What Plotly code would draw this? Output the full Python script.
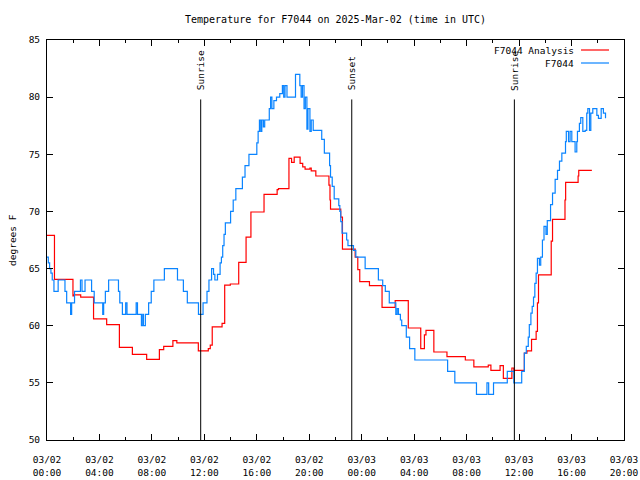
import pandas as pd
import plotly.graph_objects as go

BASE = pd.Timestamp("2025-03-02 00:00")

# Analysis series (hours since 03/02 00:00 UTC, degrees F) - step changes
red_h = [0.0, 0.57, 1.98, 2.05, 2.57, 3.55, 4.55, 5.52, 6.51, 7.6, 8.57, 8.9, 9.6, 9.9,
         11.54, 12.3, 12.45, 12.6, 13.35, 13.55, 13.98, 14.62, 15.18, 15.55, 16.55, 17.55,
         17.65, 18.45, 18.65, 18.85, 19.3, 19.5, 19.68, 20.05, 20.15, 20.5, 21.5, 21.58,
         21.62, 22.4, 22.53, 23.5, 23.7, 23.85, 24.59, 25.55, 26.55, 27.55, 28.5, 28.78,
         28.9, 29.5, 30.5, 31.9, 32.55, 33.65, 33.85, 34.55, 34.8, 35.45, 35.6, 36.4, 36.6,
         36.95, 37.3, 37.4, 37.48, 38.45, 38.55, 39.5, 39.55, 40.5, 40.55, 41.55]
red_v = [67.9, 64.05, 62.6, 62.7, 62.5, 60.6, 60.1, 58.1, 57.5, 57.05, 57.9, 58.2, 58.7, 58.5,
         57.8, 58.0, 58.3, 59.9, 60.2, 63.55, 63.65, 65.55, 67.75, 69.95, 71.5, 71.9,
         72.0, 74.65, 74.3, 74.75, 74.2, 73.9, 73.7, 73.8, 73.55, 73.1, 72.3, 71.0,
         70.2, 69.5, 66.7, 66.0, 64.9, 63.85, 63.5, 61.6, 62.2, 59.8, 58.0, 59.2,
         59.6, 57.7, 57.3, 57.0, 56.4, 56.55, 56.1, 56.5, 55.4, 56.3, 56.1, 57.6, 57.8,
         58.8, 59.5, 62.0, 64.45, 67.4, 69.3, 71.0, 72.55, 73.1, 73.6, 73.6]

# Station observations
blue_h = [0.0, 0.1, 0.2, 0.3, 0.4, 0.53, 0.85, 1.37, 1.5, 1.8, 1.88, 2.1, 2.55, 2.67, 2.9,
          3.4, 3.6, 4.25, 4.32, 4.45, 4.7, 5.45, 5.55, 5.75, 6.0, 6.1, 6.8, 6.9, 7.2, 7.3,
          7.35, 7.5, 7.75, 7.95, 8.15, 8.95, 9.95, 10.4, 10.7, 11.55, 11.9, 12.2, 12.35,
          12.55, 12.7, 12.8, 13.0, 13.2, 13.3, 13.4, 13.5, 13.6, 14.0, 14.2, 14.4, 14.9,
          15.1, 15.4, 16.0, 16.1, 16.2, 16.3, 16.38, 16.5, 16.6, 16.95, 17.05, 17.15, 17.3,
          17.5, 17.75, 17.95, 18.05, 18.15, 18.3, 18.95, 19.28, 19.38, 19.48, 19.6, 19.7,
          19.82, 19.9, 20.05, 20.15, 20.3, 20.95, 21.15, 21.55, 21.62, 21.75, 21.9, 22.25,
          22.33, 22.4, 22.5, 22.85, 22.95, 23.37, 23.55, 24.26, 25.27, 25.6, 25.8, 26.1,
          26.6, 26.7, 26.8, 26.95, 27.05, 27.4, 27.65, 28.05, 30.55, 31.1, 32.75, 33.55,
          33.68, 34.05, 35.1, 35.6, 36.2, 36.4, 36.55, 36.7, 36.78, 36.9, 37.0, 37.1, 37.2,
          37.3, 37.4, 37.55, 37.65, 37.78, 37.9, 38.05, 38.15, 38.4, 38.55, 38.75, 38.93,
          39.08, 39.26, 39.54, 39.6, 39.77, 39.89, 40.02, 40.27, 40.4, 40.45, 40.6, 40.7,
          40.86, 41.04, 41.16, 41.24, 41.37, 41.47, 41.62, 41.93, 42.05, 42.26, 42.43, 42.59]
blue_v = [66.0, 65.5, 65.0, 64.6, 64.0, 63.0, 64.0, 63.0, 62.0, 61.0, 62.0, 63.0, 64.0, 63.0, 64.0,
          63.0, 62.0, 61.0, 62.0, 63.0, 64.0, 63.0, 62.0, 61.0, 62.0, 61.0, 62.0, 61.0, 60.0, 61.0,
          60.0, 61.0, 62.0, 63.0, 64.0, 65.0, 64.0, 63.0, 62.0, 61.0, 62.0, 63.0, 64.0,
          65.0, 64.5, 64.0, 64.5, 65.5, 66.0, 67.0, 68.0, 69.0, 70.0, 71.0, 72.0, 73.0,
          74.0, 75.0, 76.0, 77.0, 78.0, 77.0, 78.0, 77.4, 78.0, 79.0, 80.0, 79.0, 79.7,
          80.0, 80.3, 81.0, 80.0, 81.0, 80.0, 82.0, 81.0, 80.0, 81.0, 79.0, 80.0,
          77.2, 79.0, 77.0, 78.0, 77.1, 76.3, 75.1, 74.0, 73.0, 72.2, 71.1, 70.5,
          70.0, 69.1, 68.1, 67.5, 67.0, 66.6, 66.0, 65.0, 64.0, 63.5, 63.0, 62.0,
          61.0, 61.5, 61.0, 60.5, 60.0, 59.0, 58.0, 57.0, 56.0, 55.0, 54.0, 55.0,
          54.0, 55.0, 56.0, 55.0, 56.0, 57.6, 58.2, 59.0, 60.1, 61.1, 61.7, 62.5, 63.7,
          64.6, 65.9, 65.3, 66.0, 67.5, 68.7, 68.0, 69.2, 70.6, 71.6, 72.8, 73.6,
          74.4, 75.1, 76.1, 77.0, 76.1, 77.0, 76.1, 75.2, 76.1, 77.0, 77.7, 78.2,
          77.0, 77.1, 78.6, 79.0, 77.1, 78.6, 79.0, 78.4, 78.15, 79.0, 78.6, 78.15]

sun_labels = ["Sunrise", "Sunset", "Sunrise"]
sun_h = [11.72, 23.24, 35.64]
sun_top = 79.8

y_ticks = [50, 55, 60, 65, 70, 75, 80, 85]
x_start_h, x_end_h = 0, 44

series_names = ["F7044 Analysis", "F7044"]
series_colors = ["#ff0000", "#0a84ff"]


def t(hours):
    return BASE + pd.to_timedelta(pd.Series(hours), unit="h")


FONT = "DejaVu Sans Mono"
FS = 9.5

fig = go.Figure()
fig.add_trace(go.Scatter(x=t(red_h), y=red_v, mode="lines", line_shape="hv",
                         line=dict(color=series_colors[0], width=1.2),
                         name=series_names[0], showlegend=False))
fig.add_trace(go.Scatter(x=t(blue_h), y=blue_v, mode="lines", line_shape="hv",
                         line=dict(color=series_colors[1], width=1.2),
                         name=series_names[1], showlegend=False))

for lab, xt in zip(sun_labels, t(sun_h)):
    fig.add_shape(type="line", xref="x", yref="y", x0=xt, x1=xt, y0=y_ticks[0], y1=sun_top,
                  line=dict(color="black", width=1))
    fig.add_annotation(x=xt, y=sun_top + 0.6, xref="x", yref="y", text=lab, textangle=-90,
                       showarrow=False, xanchor="center", yanchor="bottom",
                       font=dict(family=FONT, size=FS, color="black"))

# manual gnuplot-style legend (text left, sample right)
for i, (nm, col) in enumerate(zip(series_names, series_colors)):
    yp = 0.975 - i * 0.0325
    fig.add_annotation(x=0.916, y=yp, xref="paper", yref="paper", text=nm, showarrow=False,
                       xanchor="right", yanchor="middle",
                       font=dict(family=FONT, size=FS, color="black"))
    fig.add_shape(type="line", xref="paper", yref="paper", x0=0.9255, x1=0.974, y0=yp, y1=yp,
                  line=dict(color=col, width=1.2))

# title and y-axis label as annotations (fixed positions)
fig.add_annotation(x=0.5, y=1 + 20 / 400, xref="paper", yref="paper",
                   text="Temperature for F7044 on 2025-Mar-02 (time in UTC)", showarrow=False,
                   xanchor="center", yanchor="middle", font=dict(family=FONT, size=10, color="black"))
fig.add_annotation(x=-35 / 577, y=0.5, xref="paper", yref="paper", text="degrees F",
                   textangle=-90, showarrow=False, xanchor="center", yanchor="middle",
                   font=dict(family=FONT, size=FS, color="black"))

fig.update_layout(
    width=640, height=480,
    margin=dict(l=47, r=16, t=40, b=40, autoexpand=False),
    paper_bgcolor="white", plot_bgcolor="white",
    font=dict(family=FONT, size=FS, color="black"),
)
fig.update_xaxes(
    type="date", automargin=False,
    range=[BASE + pd.Timedelta(hours=x_start_h), BASE + pd.Timedelta(hours=x_end_h)],
    tick0=BASE, dtick=4 * 3600 * 1000, tickformat="%m/%d<br>%H:%M",
    ticks="inside", ticklen=6, tickcolor="black", ticklabelstandoff=11,
    minor=dict(dtick=2 * 3600 * 1000, ticks="inside", ticklen=3, tickcolor="black"),
    showline=True, linecolor="black", linewidth=1, mirror="allticks",
    showgrid=False, zeroline=False,
    tickfont=dict(family=FONT, size=FS, color="black"),
)
fig.update_yaxes(
    automargin=False,
    range=[y_ticks[0], y_ticks[-1]], tickvals=y_ticks,
    ticks="inside", ticklen=6, tickcolor="black", ticklabelstandoff=4,
    showline=True, linecolor="black", linewidth=1, mirror="allticks",
    showgrid=False, zeroline=False,
    tickfont=dict(family=FONT, size=FS, color="black"),
)

fig.write_html("out.html", config={"displayModeBar": False},
               post_script="document.body.style.margin='0';document.body.style.overflow='hidden';")
